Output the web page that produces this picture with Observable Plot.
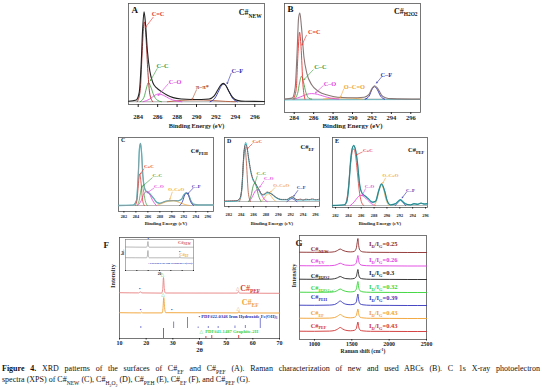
<!DOCTYPE html>
<html><head><meta charset="utf-8">
<script src="https://cdn.jsdelivr.net/npm/d3@7"></script>
<script src="https://cdn.jsdelivr.net/npm/@observablehq/plot@0.6"></script>
<style>
html,body{margin:0;padding:0;background:#fff;}
#root{position:relative;width:542px;height:389px;overflow:hidden;font-family:'Liberation Serif','DejaVu Serif',serif;}
.pn{position:absolute;}
.pn svg{overflow:visible;}
.cap{position:absolute;left:2px;width:538px;font-size:8px;line-height:11px;color:#111;white-space:nowrap;}
.cap sub{font-size:70%;line-height:0;}
</style></head><body><div id="root"></div>
<script>
const SERIF = "'Liberation Serif','DejaVu Serif',serif";
const RED="#e8322c", DRED="#a82424", GRN="#3a9a3a", MAG="#e03fe0", BRN="#b0502c", BLU="#2f2fb0", ORG="#f0a53a", CYN="#3ec3cf", GRY="#9a9a9a";

// ---------- Panel A : C#NEW ----------
const A_env=[[283,0.005],[283.8,0.02],[284.1,0.1],[284.3,0.4],[284.45,0.78],[284.6,0.98],[284.75,0.85],[284.95,0.55],[285.2,0.33],[285.5,0.21],[285.9,0.15],[286.4,0.11],[287,0.07],[287.6,0.045],[288.5,0.03],[289.5,0.025],[290.5,0.025],[291.3,0.03],[291.8,0.06],[292.2,0.13],[292.5,0.18],[292.75,0.2],[293,0.18],[293.3,0.12],[293.7,0.05],[294.2,0.015],[295,0.005],[297,0.003]];
const A_CdC=[[283.9,0],[284.2,0.12],[284.4,0.52],[284.55,0.82],[284.65,0.87],[284.8,0.7],[285,0.32],[285.2,0.08],[285.5,0]];
const A_CC=[[284.2,0],[284.6,0.05],[284.85,0.15],[285.05,0.21],[285.3,0.16],[285.6,0.07],[286,0.015],[286.4,0]];
const A_CO=[[284.5,0],[285.2,0.03],[285.7,0.07],[286.1,0.085],[286.6,0.07],[287.2,0.035],[287.9,0.01],[288.5,0]];
const A_PI=[[287,0],[288.5,0.015],[290,0.02],[291.5,0.015],[293,0.004],[294,0]];
const A_CF=[[291.4,0],[291.9,0.04],[292.3,0.12],[292.6,0.18],[292.8,0.19],[293.0,0.18],[293.3,0.12],[293.7,0.04],[294.2,0]];
const A_base=[[283,0],[297,0]];
const A_labels=[{t:"C=C",x:286.04,y:0.958,c:RED},{t:"C–C",x:286.5,y:0.39,c:GRN},{t:"C–O",x:287.8,y:0.22,c:MAG},{t:"π–π*",x:290.6,y:0.166,c:BRN},{t:"C–F",x:294.2,y:0.34,c:BLU}];
const A_leaders=[{x1:285.54,y1:0.92,x2:284.75,y2:0.81,c:RED},{x1:285.95,y1:0.36,x2:285.26,y2:0.23,c:GRN},{x1:287.08,y1:0.195,x2:286.05,y2:0.068,c:MAG},{x1:290.0,y1:0.13,x2:289.55,y2:0.024,c:BRN},{x1:293.57,y1:0.31,x2:293.15,y2:0.196,c:BLU}];

// ---------- Panel B : C#H2O2 ----------
const B_env=[[283,0],[283.8,0.01],[284.1,0.12],[284.3,0.5],[284.45,0.85],[284.58,0.9],[284.75,0.75],[285.0,0.44],[285.3,0.27],[285.8,0.15],[286.5,0.08],[287.5,0.04],[288.5,0.02],[289.5,0.015],[290.5,0.015],[291.2,0.02],[291.7,0.05],[292.0,0.11],[292.27,0.14],[292.6,0.11],[293.0,0.04],[293.4,0.015],[294,0.005],[297,0]];
const B_CdC=[[283.9,0],[284.2,0.1],[284.4,0.5],[284.55,0.7],[284.7,0.55],[284.9,0.15],[285.1,0]];
const B_CC=[[284.0,0],[284.35,0.06],[284.55,0.17],[284.75,0.24],[284.95,0.18],[285.2,0.07],[285.5,0.01],[285.8,0]];
const B_CO=[[284.0,0],[284.7,0.025],[285.3,0.05],[285.8,0.058],[286.4,0.05],[287.1,0.028],[287.8,0.01],[288.6,0]];
const B_OCO=[[287,0],[288,0.01],[289,0.013],[290,0.01],[291,0]];
const B_CF=[[291.3,0],[291.7,0.03],[292.0,0.1],[292.27,0.13],[292.55,0.1],[292.9,0.03],[293.3,0]];
const B_base=[[283,-0.008],[297,-0.004]];
const B_labels=[{t:"C=C",x:286.06,y:0.70,c:RED},{t:"C–C",x:286.7,y:0.34,c:GRN},{t:"C–O",x:287.68,y:0.157,c:MAG},{t:"O–C=O",x:290.19,y:0.126,c:ORG},{t:"C–F",x:293.48,y:0.254,c:BLU}];
const B_leaders=[{x1:285.26,y1:0.668,x2:284.8,y2:0.565,c:RED},{x1:285.95,y1:0.306,x2:284.99,y2:0.202,c:GRN},{x1:286.98,y1:0.14,x2:286.19,y2:0.064,c:MAG},{x1:289.1,y1:0.106,x2:288.76,y2:0.019,c:ORG},{x1:292.98,y1:0.23,x2:292.47,y2:0.168,c:BLU}];

// ---------- Panel C : C#PEH ----------
const C_env=[[281.1,0],[283.5,0.005],[284.1,0.08],[284.4,0.5],[284.6,0.92],[284.77,1.0],[284.95,0.85],[285.15,0.5],[285.4,0.3],[285.7,0.23],[286.0,0.215],[286.5,0.17],[287.0,0.11],[287.5,0.05],[288.0,0.035],[288.6,0.055],[289.3,0.075],[290.2,0.08],[291.0,0.075],[291.6,0.1],[292.0,0.17],[292.4,0.205],[292.8,0.17],[293.2,0.07],[293.6,0.02],[294.5,0.01],[296.95,0.01]];
const C_CdC=[[283.9,0],[284.2,0.1],[284.45,0.38],[284.65,0.51],[284.85,0.38],[285.1,0.1],[285.4,0]];
const C_CC=[[284.2,0],[284.55,0.08],[284.85,0.25],[285.05,0.32],[285.25,0.25],[285.55,0.08],[285.9,0]];
const C_CO=[[284.3,0],[284.9,0.08],[285.3,0.18],[285.8,0.225],[286.3,0.18],[286.8,0.08],[287.4,0]];
const C_OCO=[[287.5,0],[288.5,0.04],[289.5,0.07],[290.3,0.075],[291.2,0.05],[292.2,0.015],[293,0]];
const C_CF=[[291.3,0],[291.8,0.07],[292.15,0.17],[292.45,0.2],[292.75,0.17],[293.1,0.07],[293.6,0]];
const C_base=[[281.1,0],[296.95,0]];
const C_labels=[{t:"C=C",x:286.16,y:0.63,c:RED},{t:"C–C",x:287.56,y:0.484,c:GRN},{t:"C–O",x:287.83,y:0.31,c:MAG},{t:"O–C=O",x:290.73,y:0.258,c:ORG},{t:"C–F",x:294.06,y:0.31,c:BLU}];
const C_leaders=[{x1:285.32,y1:0.59,x2:284.77,y2:0.51,c:RED},{x1:286.72,y1:0.446,x2:285.22,y2:0.32,c:GRN},{x1:286.99,y1:0.28,x2:285.89,y2:0.204,c:MAG},{x1:290.06,y1:0.215,x2:289.66,y2:0.097,c:ORG},{x1:293.56,y1:0.28,x2:292.67,y2:0.19,c:BLU}];

// ---------- Panel D : C#EF ----------
const D_env=[[281.3,0],[283.3,0.01],[283.8,0.05],[284.15,0.27],[284.42,0.78],[284.7,1.0],[284.95,0.92],[285.23,0.7],[285.55,0.5],[285.85,0.38],[286.3,0.3],[286.85,0.2],[287.4,0.11],[287.8,0.12],[288.2,0.15],[288.85,0.13],[289.4,0.085],[289.8,0.055],[290.6,0.03],[291.4,0.03],[291.9,0.06],[292.25,0.075],[292.6,0.05],[293.1,0.025],[294,0.025],[295,0.03],[296.66,0.025]];
const D_raw=[[281.3,0.01],[283.3,0.015],[283.8,0.06],[284.15,0.3],[284.42,0.8],[284.7,0.97],[284.95,0.9],[285.23,0.72],[285.55,0.52],[285.85,0.4],[286.3,0.31],[286.85,0.21],[287.4,0.12],[287.8,0.13],[288.2,0.16],[288.85,0.13],[289.4,0.09],[289.8,0.06],[290.6,0.035],[291.4,0.035],[291.9,0.065],[292.25,0.08],[292.6,0.055],[293.1,0.03],[293.6,0.04],[294,0.025],[294.5,0.04],[295,0.03],[295.5,0.045],[296,0.03],[296.66,0.04]];
const D_CdC=[[283.7,0],[284.05,0.15],[284.35,0.65],[284.6,0.93],[284.85,0.65],[285.15,0.15],[285.5,0]];
const D_CC=[[285.2,0],[285.6,0.1],[285.9,0.25],[286.15,0.31],[286.45,0.25],[286.8,0.1],[287.2,0]];
const D_CO=[[285.3,0],[285.8,0.08],[286.3,0.18],[286.7,0.2],[287.2,0.13],[287.7,0.04],[288.2,0]];
const D_OCO=[[287.2,0],[287.7,0.05],[288.05,0.11],[288.35,0.13],[288.7,0.11],[289.1,0.05],[289.6,0]];
const D_CF=[[291.4,0],[291.8,0.03],[292.2,0.05],[292.6,0.03],[293,0]];
const D_base=[[281.3,0],[296.66,0]];
const D_labels=[{t:"C=C",x:286.59,y:1.017,c:RED},{t:"C–C",x:287.23,y:0.48,c:GRN},{t:"C–O",x:288.46,y:0.385,c:MAG},{t:"O–C=O",x:290.47,y:0.27,c:ORG},{t:"C–F",x:293.7,y:0.232,c:BLU}];
const D_leaders=[{x1:285.78,y1:0.978,x2:284.97,y2:0.893,c:RED},{x1:286.59,y1:0.43,x2:286.2,y2:0.3,c:GRN},{x1:287.65,y1:0.345,x2:287.0,y2:0.243,c:MAG},{x1:289.43,y1:0.232,x2:288.74,y2:0.158,c:ORG},{x1:293.15,y1:0.186,x2:292.5,y2:0.09,c:BLU}];

// ---------- Panel E : C#PEF ----------
const E_env=[[281.53,0],[283.3,0.01],[283.71,0.055],[284.07,0.33],[284.33,0.72],[284.6,0.95],[284.84,1.0],[285.1,0.93],[285.37,0.75],[285.78,0.33],[286.15,0.2],[286.6,0.16],[286.93,0.13],[287.4,0.08],[287.7,0.055],[288.22,0.07],[288.73,0.25],[289.15,0.36],[289.62,0.25],[290.04,0.08],[290.55,0.01],[291.33,0.03],[291.8,0.075],[292.1,0.095],[292.5,0.06],[292.88,0.028],[293.66,0.01],[294.2,0.03],[294.8,0.02],[295.3,0.04],[295.8,0.025],[296.31,0.03]];
const E_CdC=[[283.5,0],[283.9,0.2],[284.3,0.65],[284.6,0.9],[284.84,0.945],[285.1,0.85],[285.4,0.55],[285.75,0.2],[286.1,0.04],[286.4,0]];
const E_CO=[[284.3,0],[284.9,0.06],[285.4,0.13],[285.9,0.17],[286.4,0.15],[287,0.09],[287.6,0.03],[288.2,0]];
const E_OCO=[[288.0,0],[288.45,0.1],[288.85,0.28],[289.15,0.34],[289.45,0.28],[289.85,0.1],[290.3,0]];
const E_CF=[[291.3,0],[291.7,0.05],[292.1,0.09],[292.5,0.05],[292.9,0]];
const E_base=[[281.53,0],[296.31,0]];
const E_labels=[{t:"C=C",x:287.02,y:0.917,c:RED},{t:"C–O",x:287.28,y:0.32,c:MAG},{t:"O–C=O",x:290.55,y:0.5,c:ORG},{t:"C–F",x:293.66,y:0.25,c:BLU}];
const E_leaders=[{x1:286.15,y1:0.89,x2:285.26,y2:0.845,c:RED},{x1:286.66,y1:0.278,x2:286.15,y2:0.167,c:MAG},{x1:289.77,y1:0.456,x2:289.35,y2:0.372,c:ORG},{x1:293.04,y1:0.222,x2:292.37,y2:0.128,c:BLU}];

const XPS_TICKS=[282,284,286,288,290,292,294,296];
const AB_TICKS=[284,286,288,290,292,294,296];

// ---------- Panel F : XRD ----------
const F_PEF=[[10,45.8],[17.2,45.6],[17.8,46.6],[18.4,45.6],[25.8,45.4],[26.2,49],[26.5,61],[26.8,50],[27.2,45.5],[54.2,45.4],[54.6,47],[55,45.4],[70,45.2]];
const F_EF=[[10,25.8],[17.9,25.6],[18.3,26.5],[18.7,25.6],[26,25.6],[26.3,30],[26.6,41],[26.9,31],[27.3,25.8],[54.5,25.6],[54.8,27],[55.1,25.6],[70,25.5]];
const FE_STICK_BASE=10;
const FE_sticks=[[18.0,12],[30.3,16.5],[35.5,21],[39.5,11.5],[43.3,12],[47.0,12],[53.3,12.5],[57.2,13],[62.8,20]];
const GR_sticks=[[26.5,10],[42.4,2],[44.6,3],[54.7,3]];
const F_markers=[{x:17.6,y:49.5,t:"•",c:BLU},{x:26.1,y:64,t:"△",c:"#4cc24c"},{x:54.3,y:50,t:"△",c:"#e07a7a"},{x:17.9,y:29,t:"•",c:BLU},{x:26.3,y:43.5,t:"△",c:"#4cc24c"},{x:29.6,y:28.5,t:"•",c:BLU},{x:54.5,y:30,t:"△",c:"#e0a060"}];
const F_texts=[{x:59,y:50,t:"C#_{PEF}",c:"#d04040",s:8},{x:59,y:36,t:"C#_{EF}",c:ORG,s:8},{x:54.4,y:22,t:"• PDF#22-0346 Iron Hydroxide Fe(OH)_{3}",c:BLU,s:4.6},{x:51,y:7.3,t:"△  PDF#41-1487 Graphite-2H",c:"#3bd03b",s:4.6}];
const F_TICKS=[10,20,30,40,50,60,70];
// inset
const IN_NEW=[[10,23.5],[28.5,23.3],[29.3,25],[29.8,29],[30.3,24.5],[31,23.3],[70,23.3]];
const IN_EF=[[10,12.8],[28.5,12.7],[29.3,14.5],[29.8,20],[30.3,14],[31,12.7],[57.5,12.7],[58,14],[58.5,12.7],[70,12.5]];
const IN_texts=[{x:62,y:28.3,t:"C#_{NEW}",c:"#d05050",s:4.5},{x:61.5,y:16,t:"C#_{EF}",c:ORG,s:4.5},{x:30,y:31.5,t:"•",c:BLU,s:4},{x:57.9,y:19,t:"•",c:BLU,s:4},{x:49.7,y:7.7,t:"• PDF#22-0346 Iron Hydroxide Fe(OH)_{3}",c:BLU,s:2.6}];

// ---------- Panel G : Raman ----------
const ramanX=[800,1000,1200,1270,1310,1345,1380,1420,1480,1530,1560,1572,1582,1592,1610,1650,1750,2000,2250,2500];
const R_NEW=[87.3,87.2,87.3,87.8,89.1,90.5,89.1,88.1,87.6,88.0,91.2,96.8,101,94,89.1,87.6,87.2,87.1,87,87];
const R_UV=[73.8,73.7,73.8,74.2,75.2,76.3,75.2,74.4,74.1,74.5,76.7,80.8,84,78.8,75.1,74.1,73.7,73.6,73.5,73.5];
const R_H2O2=[60.3,60.2,60.3,60.8,61.8,63,61.8,60.9,60.6,61,63,67,70,65,61.5,60.6,60.2,60.1,60,60];
const R_H2O2e=[47.3,47.2,47.3,47.8,49.1,50.5,49.1,48.1,47.6,48,50.3,54.7,58,52.5,48.7,47.6,47.2,47.1,47,47];
const R_PEH=[34.3,34.2,34.4,35,36.7,38.5,36.7,35.3,34.8,35.3,37.5,42,45.5,39.8,35.7,34.7,34.2,34.1,34,34];
const R_EF=[21.3,21.2,21.4,22,23.4,25,23.4,22.2,21.7,22.1,23.9,27.6,30.5,25.8,22.4,21.6,21.2,21.1,21,21];
const R_PEF=[8.3,8.2,8.4,9,10.4,12,10.4,9.2,8.7,9.1,10.9,14.6,17.5,12.8,9.4,8.6,8.2,8.1,8,8];
const R_names=["C#_{NEW}","C#_{UV}","C#_{H2O2}","C#_{H2O2+e^{-}}","C#_{PEH}","C#_{EF}","C#_{PEF}"];
const R_ratios=["0.25","0.26","0.3","0.32","0.39","0.43","0.43"];
const R_colors=["#8b2a2a","#e040e0","#222222","#33d433","#3333bb","#f0a030","#d03030"];
const R_nameY=[90.7,79,64,51.3,42.7,26.7,14];
const R_ratioY=[95.7,79.7,66.3,53,41.3,26.7,14];
const G_TICKS=[1000,1500,2000,2500];

// ---------- helpers ----------
const root=document.getElementById("root");
function richText(svg){
  svg.querySelectorAll("text").forEach(t=>{
    if(t.children.length) return;
    const s=t.textContent;
    if(!/[_^]\{/.test(s)) return;
    const fs=parseFloat(getComputedStyle(t).fontSize)||8;
    const segs=[];const stack=[];let buf="";
    const flush=()=>{if(buf){segs.push({t:buf,lv:[...stack]});buf="";}};
    for(let i=0;i<s.length;i++){const c=s[i];
      if((c==="_"||c==="^")&&s[i+1]==="{"){flush();stack.push(c);i++;}
      else if(c==="}"&&stack.length){flush();stack.pop();}
      else buf+=c;}
    flush();
    t.textContent="";let prev=0;
    for(const sg of segs){let off=0,size=fs;
      for(const l of sg.lv){off+=(l==="_"?0.3:-0.4)*size;size*=0.68;}
      const ts=document.createElementNS("http://www.w3.org/2000/svg","tspan");
      ts.setAttribute("dy",(off-prev).toFixed(2));
      ts.setAttribute("font-size",size.toFixed(2));
      ts.textContent=sg.t;t.appendChild(ts);prev=off;}
  });
}
function place(node,left,top){const d=document.createElement("div");d.className="pn";d.style.left=left+"px";d.style.top=top+"px";d.appendChild(node);root.appendChild(d);richText(node);}
function makePlot(f,m,opts){
  const p=Plot.plot({width:f.fr-f.fl+m[3]+m[1],height:f.fb-f.ft+m[0]+m[2],marginTop:m[0],marginRight:m[1],marginBottom:m[2],marginLeft:m[3],
    color:{type:"identity"},style:{fontFamily:SERIF,fontSize:opts.tickFs+"px",fontWeight:"bold",color:"#222",background:"transparent"},
    x:opts.x,y:opts.y,marks:opts.marks});
  place(p,f.fl-m[3],f.ft-m[0]);
}
const L=(data,stroke,w,extra={})=>Plot.line(data,{x:d=>d[0],y:d=>d[1],stroke,strokeWidth:w,curve:"monotone-x",...extra});
const fmt=d=>String(d);

function xps(cfg){
  const marks=[Plot.frame({stroke:"#555",strokeWidth:0.8})];
  for(const c of cfg.curves) marks.push(L(c[0],c[1],c[2],c[3]||{}));
  marks.push(Plot.arrow(cfg.leaders,{x1:"x1",y1:"y1",x2:"x2",y2:"y2",stroke:"c",strokeWidth:0.6,headLength:cfg.head}));
  marks.push(Plot.text(cfg.labels,{x:"x",y:"y",text:"t",fill:"c",fontSize:cfg.labFs,fontWeight:"bold"}));
  marks.push(Plot.text([cfg.tag],{x:"x",y:"y",text:"t",fontSize:cfg.tagFs,fontWeight:"bold",textAnchor:"start",fill:"#111"}));
  marks.push(Plot.text([cfg.title],{x:"x",y:"y",text:"t",fontSize:cfg.titleFs,fontWeight:"bold",textAnchor:"end",fill:"#111"}));
  marks.push(Plot.axisX({ticks:cfg.ticks,tickSize:cfg.tickSize,tickPadding:cfg.tickPad,label:null,tickFormat:fmt}));
  marks.push(Plot.text([cfg.xlabel],{frameAnchor:"bottom",dy:cfg.labDy,text:d=>d,fontSize:cfg.xlabFs,fontWeight:"bold",fill:"#222"}));
  makePlot(cfg.f,cfg.m,{tickFs:cfg.tickFs,x:{domain:cfg.xd},y:{domain:cfg.yd,axis:null},marks});
}

// Panel A
xps({f:{fl:128,fr:264,ft:3,fb:104},m:[3,6,30,8],xd:[283,297],yd:[-0.03,1.07],
  curves:[[A_base,GRY,0.8],[A_PI,BRN,0.8],[A_CO,MAG,0.8],[A_CC,GRN,0.8],[A_CdC,DRED,0.9],[A_CF,BLU,0.9],[A_env,"#222",1.1]],
  labels:A_labels,leaders:A_leaders,head:3,labFs:6.3,tag:{x:283.3,y:1.0,t:"A"},tagFs:9,title:{x:296.7,y:0.97,t:"C#_{NEW}"},titleFs:8,
  ticks:AB_TICKS,tickSize:3,tickPad:7,tickFs:6.5,xlabel:"Binding Energy (eV)",labDy:23,xlabFs:6.3});
// Panel B
xps({f:{fl:284,fr:420,ft:3,fb:112},m:[3,6,22,6],xd:[283,297],yd:[-0.14,1.0],
  curves:[[B_base,CYN,0.9],[[[283,0],[297,0]],GRY,0.7],[B_OCO,ORG,0.8],[B_CO,MAG,0.8],[B_CC,GRN,0.8],[B_CdC,RED,0.9],[B_CF,BLU,0.9],[B_env,"#8a7878",1.1]],
  labels:B_labels,leaders:B_leaders,head:3,labFs:6.3,tag:{x:283.3,y:0.94,t:"B"},tagFs:9,title:{x:296.7,y:0.92,t:"C#_{H2O2}"},titleFs:8,
  ticks:AB_TICKS,tickSize:2,tickPad:1,tickFs:6.5,xlabel:"Binding Energy (eV)",labDy:15,xlabFs:6.8});
// Panel C
xps({f:{fl:118,fr:213,ft:137,fb:211},m:[2,4,17,4],xd:[281.1,296.95],yd:[-0.097,1.097],
  curves:[[C_base,GRY,0.7],[C_env,CYN,1.3],[C_OCO,ORG,0.7],[C_CO,MAG,0.8],[C_CC,GRN,0.7],[C_CdC,RED,0.8],[C_CF,BLU,0.8],[C_env,"#a88c8c",0.7]],
  labels:C_labels,leaders:C_leaders,head:2,labFs:4.8,tag:{x:281.5,y:1.05,t:"C"},tagFs:6,title:{x:296,y:0.876,t:"C#_{PEH}"},titleFs:6.5,
  ticks:XPS_TICKS,tickSize:1.5,tickPad:1.5,tickFs:4.3,xlabel:"Binding Energy (eV)",labDy:13,xlabFs:4.8});
// Panel D
xps({f:{fl:224,fr:319,ft:137,fb:206},m:[2,4,22,4],xd:[281.3,296.66],yd:[-0.085,1.085],
  curves:[[D_base,GRY,0.7],[D_OCO,ORG,0.7],[D_CO,MAG,0.8],[D_CC,"#3b8a3b",0.8],[D_CdC,"#b0503a",0.8],[D_CF,BLU,0.8],[D_env,CYN,1.1],[D_raw,"#8b2a2a",0.8,{strokeDasharray:"0.8,1.2"}]],
  labels:D_labels,leaders:D_leaders,head:2,labFs:4.8,tag:{x:281.7,y:1.02,t:"D"},tagFs:6,title:{x:295.8,y:0.92,t:"C#_{EF}"},titleFs:6.5,
  ticks:XPS_TICKS,tickSize:1.5,tickPad:5,tickFs:4.3,xlabel:"Binding Energy (eV)",labDy:18,xlabFs:4.8});
// Panel E
xps({f:{fl:332,fr:427,ft:137,fb:207},m:[2,4,21,4],xd:[281.53,296.31],yd:[-0.033,1.133],
  curves:[[E_base,GRY,0.7],[E_CO,MAG,0.8],[E_OCO,ORG,0.8],[E_CF,BLU,0.8],[E_CdC,RED,0.8],[E_env,CYN,1.4],[E_env,"#2d5a5a",0.7]],
  labels:E_labels,leaders:E_leaders,head:2,labFs:4.8,tag:{x:281.9,y:1.08,t:"E"},tagFs:6,title:{x:295.8,y:0.933,t:"C#_{PEF}"},titleFs:6.5,
  ticks:XPS_TICKS,tickSize:1.5,tickPad:5,tickFs:4.3,xlabel:"Binding Energy (eV)",labDy:17,xlabFs:4.8});

// Panel F main
(function(){
  const marks=[Plot.frame({stroke:"#555",strokeWidth:0.8}),
    Plot.ruleX(FE_sticks,{x:d=>d[0],y1:FE_STICK_BASE,y2:d=>d[1],stroke:"#4a4ac0",strokeWidth:0.7}),
    Plot.ruleX(GR_sticks,{x:d=>d[0],y1:0,y2:d=>d[1],stroke:"#e03030",strokeWidth:0.9}),
    L(F_PEF,"#e88080",0.9),L(F_EF,"#f0a030",0.9),
    Plot.text(F_markers,{x:"x",y:"y",text:"t",fill:"c",fontSize:4.5}),
    Plot.text(F_texts,{x:"x",y:"y",text:"t",fill:"c",fontSize:"s",fontWeight:"bold"}),
    Plot.axisX({ticks:F_TICKS,tickSize:1.5,tickPadding:1,label:null,tickFormat:fmt}),
    Plot.text(["2θ"],{frameAnchor:"bottom",dy:13,text:d=>d,fontSize:6.5,fontWeight:"bold"}),
    Plot.text(["Intensity"],{frameAnchor:"left",rotate:-90,dx:-7,text:d=>d,fontSize:6.3,fontWeight:"bold"}),
    Plot.text(["F"],{frameAnchor:"top-left",dx:-16,dy:4,text:d=>d,fontSize:9,fontWeight:"bold"})];
  makePlot({fl:119,fr:279,ft:237,fb:338},[2,8,18,20],{tickFs:6,x:{domain:[10,70]},y:{domain:[0,101],axis:null},marks});
})();
// Panel F inset
(function(){
  const marks=[Plot.frame({stroke:"#777",strokeWidth:0.6}),
    L(IN_NEW,"#8a8a8a",0.6),L(IN_EF,"#8a8a8a",0.6),
    Plot.text(IN_texts,{x:"x",y:"y",text:"t",fill:"c",fontSize:"s",fontWeight:"bold"}),
    Plot.axisX({ticks:F_TICKS,tickSize:1,tickPadding:0.5,label:null,tickFormat:()=>""}),
    Plot.text(["2θ"],{frameAnchor:"bottom",dy:4,text:d=>d,fontSize:3.5,fontWeight:"bold"}),
    Plot.text(["Int."],{frameAnchor:"left",rotate:-90,dx:-3,text:d=>d,fontSize:3.5,fontWeight:"bold"})];
  makePlot({fl:125,fr:193,ft:239,fb:270},[1,1,6,5],{tickFs:3,x:{domain:[10,70]},y:{domain:[0,31],axis:null},marks});
})();
// Panel G
(function(){
  const marks=[Plot.frame({stroke:"#555",strokeWidth:0.8})];
  const series=[R_NEW,R_UV,R_H2O2,R_H2O2e,R_PEH,R_EF,R_PEF];
  series.forEach((vals,k)=>marks.push(Plot.line(ramanX,{x:d=>d,y:(d,i)=>vals[i],stroke:R_colors[k],strokeWidth:0.9,curve:"monotone-x"})));
  const nameRows=R_names.map((n,k)=>({t:n,y:R_nameY[k],c:R_colors[k]}));
  const ratioRows=R_ratios.map((r,k)=>({t:"I_{D}/I_{G}="+r,y:R_ratioY[k],c:R_colors[k]}));
  marks.push(Plot.text(nameRows,{x:()=>950,y:"y",text:"t",fill:"c",fontSize:6.3,fontWeight:"bold",textAnchor:"start"}));
  marks.push(Plot.text(ratioRows,{x:()=>1730,y:"y",text:"t",fill:"c",fontSize:6.5,fontWeight:"bold",textAnchor:"start"}));
  marks.push(Plot.axisX({ticks:G_TICKS,tickSize:1.5,tickPadding:0.5,label:null,tickFormat:fmt}));
  marks.push(Plot.text(["Raman shift (cm^{-1})"],{frameAnchor:"bottom",dy:13.5,text:d=>d,fontSize:5.6,fontWeight:"bold"}));
  marks.push(Plot.text(["Intensity"],{frameAnchor:"left",rotate:-90,dx:-6,text:d=>d,fontSize:6.3,fontWeight:"bold"}));
  marks.push(Plot.text(["G"],{frameAnchor:"top-left",dx:-4,dy:4,text:d=>d,fontSize:9,fontWeight:"bold"}));
  makePlot({fl:299,fr:426,ft:235,fb:339},[2,10,18,14],{tickFs:5.8,x:{domain:[800,2500]},y:{domain:[0,104],axis:null},marks});
})();

// caption
const cap1=document.createElement("div");cap1.className="cap";cap1.style.top="363px";cap1.style.textAlign="justify";cap1.style.textAlignLast="justify";cap1.style.whiteSpace="normal";
cap1.innerHTML="<b>Figure 4.</b> XRD patterns of the surfaces of C#<sub>EF</sub> and C#<sub>PEF</sub> (A). Raman characterization of new and used ABCs (B). C 1s X-ray photoelectron";
const cap2=document.createElement("div");cap2.className="cap";cap2.style.top="374px";
cap2.innerHTML="spectra (XPS) of C#<sub>NEW</sub> (C), C#<sub>H<sub>2</sub>O<sub>2</sub></sub> (D), C#<sub>PEH</sub> (E), C#<sub>EF</sub> (F), and C#<sub>PEF</sub> (G).";
root.appendChild(cap1);root.appendChild(cap2);
</script></body></html>
